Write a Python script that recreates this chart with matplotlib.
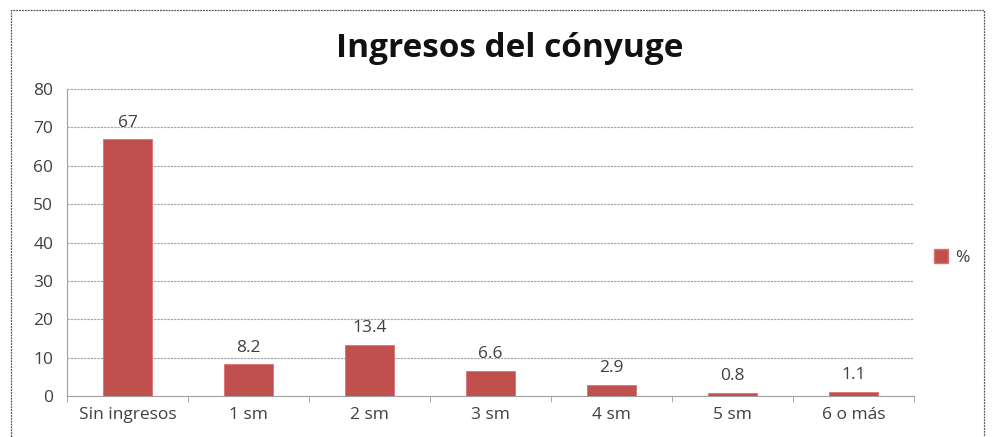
import matplotlib
matplotlib.use("Agg")
import matplotlib.pyplot as plt
from matplotlib.patches import Rectangle, Patch
import numpy as np

categories = ["Sin ingresos", "1 sm", "2 sm", "3 sm", "4 sm", "5 sm", "6 o más"]
values = [67, 8.2, 13.4, 6.6, 2.9, 0.8, 1.1]
labels = ["67", "8.2", "13.4", "6.6", "2.9", "0.8", "1.1"]
yticks = [0, 10, 20, 30, 40, 50, 60, 70, 80]

plt.rcParams['font.family'] = ['Open Sans', 'DejaVu Sans']
bar_color = "#C0504D"
text_color = "#404040"

fig = plt.figure(figsize=(9.93, 4.37), dpi=100)
ax = fig.add_axes([0.0675, 0.094, 0.853, 0.702])

x = np.arange(len(categories))
ax.bar(x, values, width=0.4, color=bar_color, edgecolor="#E07070", linewidth=0.6, zorder=3)
for xi, v, lab in zip(x, values, labels):
    ax.text(xi, v + 2.2, lab, ha="center", va="bottom", fontsize=12.5, color=text_color)

ax.set_xlim(-0.5, len(categories) - 0.5)
ax.set_ylim(0, 80)
ax.set_yticks(yticks)
ax.set_yticklabels([str(t) for t in yticks], fontsize=12.5, color=text_color)
ax.set_xticks(x)
ax.set_xticklabels(categories, fontsize=12.5, color=text_color)
ax.tick_params(axis="x", length=0, pad=8)
ax.tick_params(axis="y", length=0, pad=10)
# boundary tick marks
ax.set_xticks(np.arange(-0.5, len(categories), 1.0), minor=True)
ax.tick_params(axis="x", which="minor", length=4, color="#999999", direction="out")

ax.grid(axis="y", linestyle=(0, (2, 1)), color="#A0A0A0", linewidth=0.8, zorder=0)
for side in ["top", "right"]:
    ax.spines[side].set_visible(False)
ax.spines["left"].set_linestyle((0, (2, 1)))
ax.spines["left"].set_color("#A0A0A0")
ax.spines["bottom"].set_linestyle((0, (2, 1)))
ax.spines["bottom"].set_color("#A0A0A0")

fig.text(0.513, 0.89, "Ingresos del cónyuge", ha="center", va="center",
         fontsize=24, fontweight="bold", color="#111111")

handle = Patch(facecolor=bar_color, edgecolor="#E07070")
fig.legend([handle], ["%"], loc="center left", bbox_to_anchor=(0.925, 0.41),
           frameon=False, fontsize=12.5, handlelength=0.8, handleheight=0.8,
           handletextpad=0.4, labelcolor=text_color)

fig.patches.append(Rectangle((0.011, -0.01), 0.98, 0.987, transform=fig.transFigure,
                             fill=False, edgecolor="#555555", linewidth=0.9,
                             linestyle=(0, (1.5, 0.8))))

fig.savefig("out.png", dpi=100)
